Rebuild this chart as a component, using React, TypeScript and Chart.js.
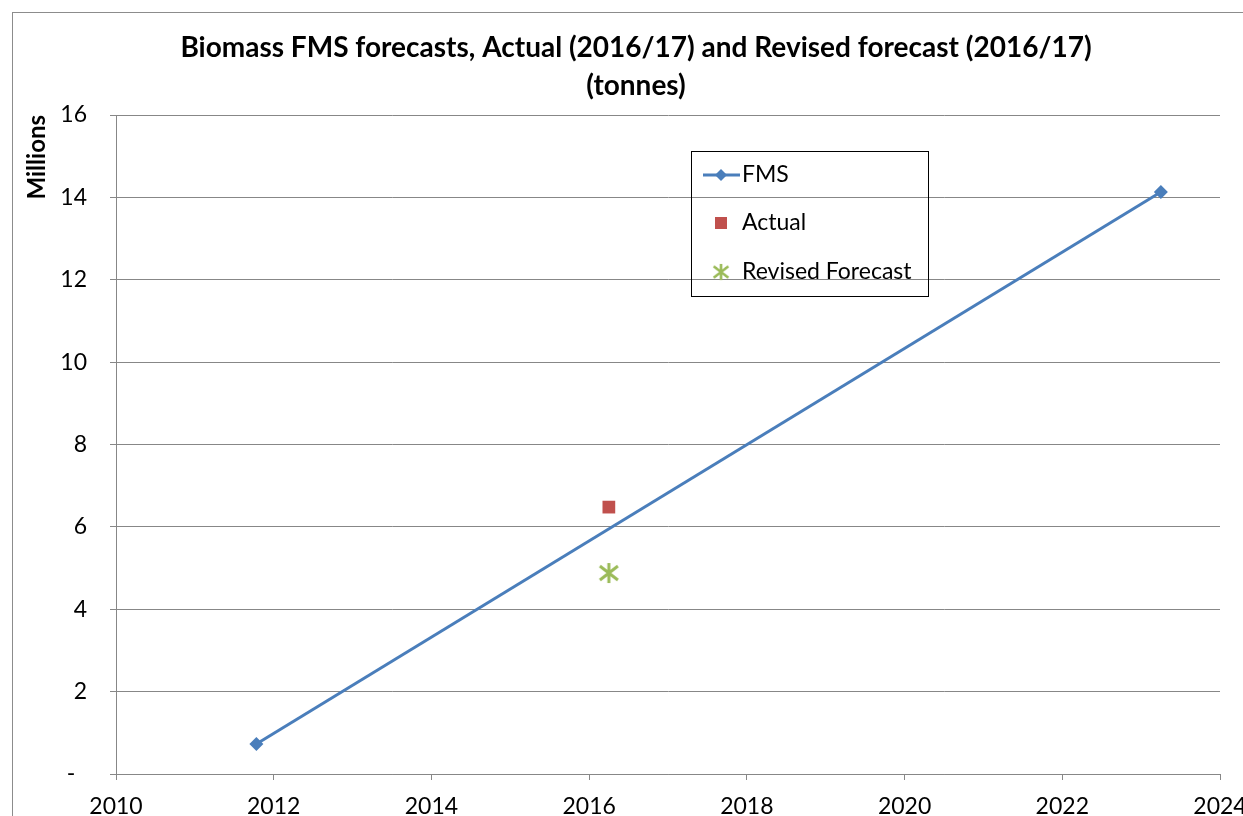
import React, { useEffect, useRef } from 'react';
import { Chart, registerables } from 'chart.js';

Chart.register(...registerables);

// ---- Data ----
const titleLines = [
  'Biomass FMS forecasts, Actual (2016/17) and Revised forecast (2016/17)',
  '(tonnes)',
];
const yAxisTitle = 'Millions';
const seriesNames = ['FMS', 'Actual', 'Revised Forecast'];
const fmsYears = [2011.78, 2023.25];
const fmsValues = [0.73, 14.13];
const actualYears = [2016.25];
const actualValues = [6.48];
const revisedYears = [2016.25];
const revisedValues = [4.88];
const xMin = 2010;
const xMax = 2024;
const xStep = 2;
const yMin = 0;
const yMax = 16;
const yStep = 2;
const zeroLabel = '-  ';

// ---- Styles ----
const FONT = 'Lato';
const BLUE = '#4A7EBB';
const RED = '#C0504D';
const GREEN = '#9BBB59';
const GRID = '#878787';

function makeStar(size: number, color: string, lw: number) {
  const c = document.createElement('canvas');
  c.width = size;
  c.height = size;
  const ctx = c.getContext('2d')!;
  ctx.strokeStyle = color;
  ctx.lineWidth = lw;
  const m = 2;
  ctx.beginPath();
  ctx.moveTo(m, m + 2);
  ctx.lineTo(size - m, size - m - 2);
  ctx.moveTo(size - m, m + 2);
  ctx.lineTo(m, size - m - 2);
  ctx.moveTo(size / 2, 1);
  ctx.lineTo(size / 2, size - 1);
  ctx.stroke();
  return c;
}

const decor = {
  id: 'decor',
  beforeDraw(chart: any) {
    const ctx = chart.ctx;
    ctx.save();
    ctx.fillStyle = '#ffffff';
    ctx.fillRect(0, 0, chart.width, chart.height);
    ctx.strokeStyle = '#8c8c8c';
    ctx.lineWidth = 1;
    ctx.strokeRect(12.5, 12.5, chart.width + 20, chart.height + 20);
    ctx.restore();
  },
  afterDraw(chart: any) {
    const ctx = chart.ctx;
    const star = chart.options.plugins.decor.star;
    ctx.save();
    // Title
    ctx.fillStyle = '#000';
    ctx.textAlign = 'center';
    ctx.textBaseline = 'middle';
    ctx.font = `bold 28px ${FONT}`;
    ctx.fillText(titleLines[0], 636, 48);
    ctx.fillText(titleLines[1], 636, 86);

    // Legend box
    ctx.strokeStyle = '#000';
    ctx.lineWidth = 1;
    ctx.strokeRect(691.5, 151.5, 237, 145);
    ctx.font = `23px ${FONT}`;
    ctx.textAlign = 'left';
    const sx = 721;
    const tx = 742;
    const ys = [175, 223, 272];
    // FMS
    ctx.strokeStyle = BLUE;
    ctx.lineWidth = 3;
    ctx.beginPath();
    ctx.moveTo(703, ys[0]);
    ctx.lineTo(740, ys[0]);
    ctx.stroke();
    ctx.fillStyle = BLUE;
    ctx.beginPath();
    ctx.moveTo(sx, ys[0] - 6);
    ctx.lineTo(sx + 6, ys[0]);
    ctx.lineTo(sx, ys[0] + 6);
    ctx.lineTo(sx - 6, ys[0]);
    ctx.closePath();
    ctx.fill();
    // Actual
    ctx.fillStyle = RED;
    ctx.fillRect(sx - 6, ys[1] - 6, 12, 12);
    // Revised
    ctx.drawImage(star, sx - 9, ys[2] - 9, 18, 18);
    ctx.fillStyle = '#000';
    seriesNames.forEach((n, i) => ctx.fillText(n, tx, ys[i]));
    ctx.restore();
  },
};

export default function App() {
  const ref = useRef<HTMLCanvasElement>(null);
  useEffect(() => {
    const star = makeStar(22, GREEN, 3);
    const chart = new Chart(ref.current!, {
      type: 'scatter',
      data: {
        datasets: [
          {
            label: seriesNames[0],
            data: fmsYears.map((x, i) => ({ x, y: fmsValues[i] })),
            showLine: true,
            borderColor: BLUE,
            backgroundColor: BLUE,
            borderWidth: 3,
            pointStyle: 'rectRot',
            pointRadius: 7,
            pointBorderWidth: 0,
          },
          {
            label: seriesNames[1],
            data: actualYears.map((x, i) => ({ x, y: actualValues[i] })),
            borderColor: RED,
            backgroundColor: RED,
            pointStyle: 'rect',
            pointRadius: 9,
            pointBorderWidth: 0,
          },
          {
            label: seriesNames[2],
            data: revisedYears.map((x, i) => ({ x, y: revisedValues[i] })),
            borderColor: GREEN,
            backgroundColor: GREEN,
            pointStyle: star as any,
            pointRadius: 11,
          },
        ],
      },
      options: {
        responsive: false,
        animation: false,
        devicePixelRatio: 1,
        events: [],
        layout: { padding: { top: 115, right: 23, left: 0, bottom: 0 }, autoPadding: false },
        plugins: {
          legend: { display: false },
          title: { display: false },
          tooltip: { enabled: false },
          decor: { star },
        } as any,
        scales: {
          x: {
            type: 'linear',
            min: xMin,
            max: xMax,
            ticks: {
              stepSize: xStep,
              color: '#000',
              font: { family: FONT, size: 23 },
              padding: 13,
              maxRotation: 0,
              callback: (v: any) => String(v),
            },
            grid: { drawOnChartArea: false, drawTicks: true, tickLength: 6, color: GRID },
            border: { color: GRID, width: 1 },
            afterFit: (s: any) => {
              s.height = 42;
              s.paddingLeft = 0;
              s.paddingRight = 0;
            },
          },
          y: {
            type: 'linear',
            min: yMin,
            max: yMax,
            ticks: {
              stepSize: yStep,
              color: '#000',
              font: { family: FONT, size: 23 },
              padding: 23,
              callback: (v: any) => (v === 0 ? zeroLabel : String(v)),
            },
            grid: { color: GRID, drawTicks: true, tickLength: 6 },
            border: { color: GRID, width: 1 },
            title: {
              display: true,
              text: yAxisTitle,
              align: 'end',
              color: '#000',
              font: { family: FONT, size: 24, weight: 'bold' },
              padding: { top: 23, bottom: 0 },
            },
            afterFit: (s: any) => {
              s.width = 116;
              s.paddingTop = 0;
              s.paddingBottom = 0;
            },
          },
        },
      },
      plugins: [decor],
    });
    return () => chart.destroy();
  }, []);
  return (
    <div style={{ position: 'fixed', left: 0, top: 0, width: 1243, height: 816 }}>
      <canvas ref={ref} width={1243} height={816} style={{ display: 'block' }} />
    </div>
  );
}
